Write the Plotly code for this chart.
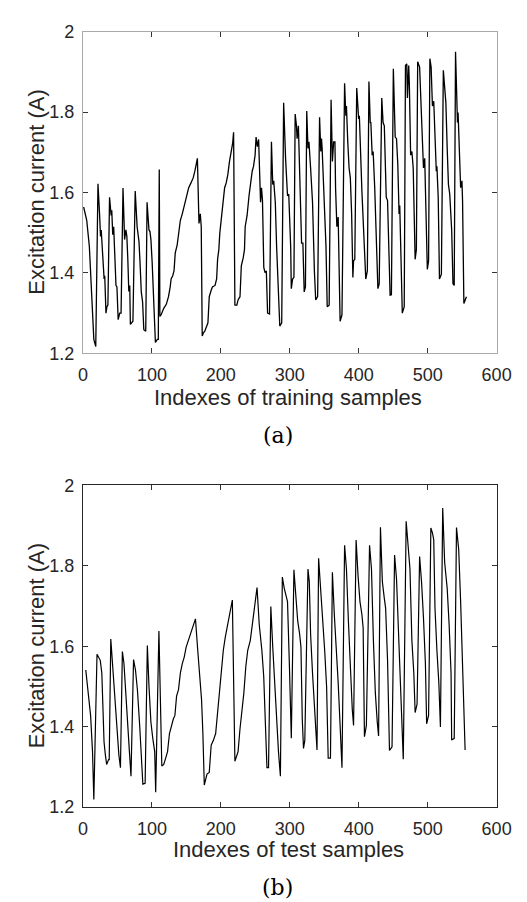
import plotly.graph_objects as go

# ---------------- data ----------------
train_idx = [1, 5.5, 9.3, 13, 15.8, 18.6, 21.8, 24.1, 25.5, 26.5, 27.9, 28.8, 30.7, 31.6, 33.4, 34.8, 36.2,
             38.6, 40.9, 41.8, 43.2, 44.6, 46, 47.9, 49.3, 51.1, 53.4, 55.3,
             58.1, 60.4, 62.3, 63.7, 65.1, 66.5, 67.9, 68.8, 72.5,
             75.8, 78.6, 80, 81.3, 82.7, 84.6, 86.5, 88.3, 91.1,
             93, 94.8, 95.8, 97.2, 98.6, 100.4, 102.3, 103.2, 105.1, 107.9, 109.3,
             110.7, 111.6, 113.4, 117.2, 120.9, 124.1, 126.5, 127.9, 130.2, 132.1, 133.9, 136.7, 138.6,
             141.3, 144.1, 147.4, 150.6, 153.4, 156.7, 160, 162.3, 164.6, 166,
             168.3, 169.3, 170.2, 171.6, 173, 174.8, 176.7, 181.3, 183.2, 186, 187.8, 191.6, 193.9,
             195.3, 197.1, 198.5, 200.9, 203.2, 205.5, 207.8, 210.2, 212.5, 214.8, 217.1, 218.5,
             220.4, 223.2, 225.0, 227.8, 229.7, 232.5, 234.3, 235.3, 238.1, 240.9, 242.7, 245.5, 247.4,
             249.7, 251.1, 253, 254.8, 257.6, 259, 260.4, 262.3, 264.1, 266, 267.8, 270.6,
             273.4, 275.3, 276.7, 278.1, 279, 280.9, 282.7, 283.6, 285.5, 288.3,
             291.1, 293.9, 294.8, 296.7, 298.5, 301.3, 302.2, 304.1, 306,
             307.8, 309.7, 310.6, 312.5, 314.3, 316.2, 317.1, 319, 320.9, 322.7,
             324.6, 326.4, 327.8, 330.2, 333, 335.7, 337.6, 340.4,
             343.2, 345, 346, 346.9, 348.8, 350.6, 352.5, 354.3, 357.1,
             359.9, 361.8, 363.6, 365.5, 366.4, 368.3, 370.2, 373, 375.7,
             379.5, 381.3, 382.2, 384.1, 386, 387.8, 389.7, 391.5, 392.5, 394.3,
             397.1, 399.9, 400.9, 404.6, 407.4, 410.2, 412.5,
             414.8, 416.7, 417.6, 419.5, 420.9, 423.2, 426, 427.8, 429.7,
             433.4, 435.3, 437.1, 439.9, 441.8, 443.6, 445.5, 447.4,
             450.2, 452.9, 454.8, 456.7, 458.5, 459.5, 461.3, 463.2, 466,
             467.8, 469.7, 470.6, 472.5, 473.4, 475.3, 477.1, 479, 481.8, 483.6,
             485.5, 488.3, 490.2, 492, 493.9, 495.7, 497.6, 499.5, 501.3,
             503.2, 505, 506.9, 508.8, 510.6, 512.5, 513.4, 515.3, 517.1, 519.9,
             522.7, 525.5, 526.4, 528.3, 530.1, 532, 534.8, 536.7, 538.5,
             540.4, 543.2, 544.1, 546, 547.8, 549.7, 550.6, 552.5, 554.3, 556.2]
train_val = [1.564, 1.531, 1.466, 1.345, 1.235, 1.217, 1.622, 1.547, 1.491, 1.507, 1.454, 1.450, 1.385, 1.393, 1.300, 1.316, 1.320,
             1.588, 1.543, 1.556, 1.495, 1.515, 1.426, 1.369, 1.365, 1.284, 1.300, 1.300,
             1.611, 1.483, 1.507, 1.491, 1.434, 1.354, 1.369, 1.272, 1.280,
             1.604, 1.515, 1.499, 1.478, 1.430, 1.353, 1.328, 1.259, 1.255,
             1.576, 1.531, 1.507, 1.503, 1.483, 1.426, 1.328, 1.328, 1.227, 1.235, 1.235,
             1.657, 1.292, 1.296, 1.312, 1.322, 1.341, 1.365, 1.385, 1.393, 1.405, 1.450, 1.470, 1.495,
             1.531, 1.547, 1.572, 1.596, 1.612, 1.624, 1.637, 1.653, 1.673, 1.685,
             1.523, 1.547, 1.547, 1.515, 1.243, 1.251, 1.255, 1.276, 1.341, 1.357, 1.365, 1.369, 1.385,
             1.434, 1.458, 1.499, 1.539, 1.564, 1.612, 1.624, 1.645, 1.677, 1.702, 1.722, 1.750,
             1.320, 1.320, 1.333, 1.341, 1.418, 1.438, 1.458, 1.515, 1.543, 1.592, 1.620, 1.653, 1.665,
             1.693, 1.738, 1.714, 1.732, 1.576, 1.612, 1.580, 1.414, 1.401, 1.405, 1.300, 1.298,
             1.726, 1.620, 1.629, 1.596, 1.576, 1.466, 1.377, 1.385, 1.268, 1.276,
             1.823, 1.685, 1.661, 1.592, 1.596, 1.466, 1.361, 1.385, 1.389,
             1.795, 1.766, 1.734, 1.766, 1.653, 1.572, 1.474, 1.474, 1.353, 1.365,
             1.803, 1.710, 1.726, 1.661, 1.576, 1.405, 1.333, 1.341,
             1.787, 1.702, 1.734, 1.710, 1.612, 1.547, 1.466, 1.316, 1.320,
             1.831, 1.677, 1.726, 1.726, 1.612, 1.515, 1.539, 1.280, 1.296,
             1.872, 1.791, 1.815, 1.726, 1.661, 1.637, 1.547, 1.389, 1.430, 1.434,
             1.860, 1.783, 1.791, 1.604, 1.507, 1.385, 1.405,
             1.876, 1.774, 1.774, 1.693, 1.702, 1.612, 1.466, 1.361, 1.373,
             1.835, 1.774, 1.766, 1.588, 1.580, 1.466, 1.345, 1.346,
             1.908, 1.738, 1.734, 1.669, 1.547, 1.568, 1.385, 1.300, 1.316,
             1.916, 1.920, 1.835, 1.916, 1.872, 1.693, 1.702, 1.661, 1.434, 1.458,
             1.925, 1.912, 1.839, 1.774, 1.661, 1.685, 1.547, 1.409, 1.430,
             1.933, 1.912, 1.815, 1.827, 1.750, 1.653, 1.665, 1.588, 1.385, 1.397,
             1.904, 1.848, 1.823, 1.710, 1.620, 1.596, 1.507, 1.373, 1.369,
             1.950, 1.774, 1.799, 1.718, 1.612, 1.629, 1.580, 1.324, 1.333, 1.341]

test_idx = [4.1, 7.9, 11.1, 13.9, 15.8, 20.4, 23.2, 25.1, 27.4, 28.8, 30.6, 32.5, 34.4, 37.2, 38.1,
            40.4, 43.7, 46.5, 49.7, 52.1, 54.4,
            57.2, 59.5, 62.3, 65.1, 67.4, 69.7,
            73.4, 76.2, 79, 82.3, 84.6, 86.9, 90.2,
            93.4, 95.8, 98.6, 101.3, 104.1, 105.5,
            110.2, 114.4, 117.2, 120, 122.7, 125.5, 128.3, 131.1, 133.4, 135.8, 138.6, 141.3, 144.1,
            146.9, 149.7, 152.5, 155.3, 158.1, 160.9, 163.2,
            166.5, 169.3, 172, 173.9, 176, 179.9, 183.2, 186, 189.2, 192.5, 195.3, 198.1, 200.9,
            203.6, 206.4, 209.2, 212, 213.9, 216.7,
            220.4, 222.3, 225, 227.8, 230.6, 233.4, 236.2, 239, 242.7, 245.5, 249.2, 252.5,
            255.7, 259.5, 262.2, 264.1, 266.9, 269.2,
            272.5, 275.3, 278.1, 280.9, 283.6, 286.4,
            289.2, 292, 293.9, 296.7, 299.5, 302.2,
            306, 308.8, 311.5, 314.3, 316.2, 318.1, 319.9, 321.8,
            326.4, 328.3, 330.2, 333, 335.7, 339.5,
            341.8, 345, 347.8, 350.6, 353.4, 355.7, 359,
            361.8, 364.6, 367.4, 370.2, 373, 375.7,
            379.5, 382.2, 385, 387.8, 390.6, 392.5,
            396.2, 399, 401.8, 404.6, 406.4, 408.3, 411.1,
            415.7, 418.5, 421.3, 424.1, 426.9, 428.8,
            431.5, 434.3, 437.1, 439, 441.8, 444.6, 448.3,
            452, 454.8, 457.6, 460.4, 462.2, 464.6,
            468.8, 471.5, 474.3, 477.1, 479.9, 481.8, 484.6,
            488.3, 491.1, 493.9, 496.7, 498.5, 501.3,
            504.6, 506.9, 508.8, 510.6, 513.4, 516.2, 518.5,
            521.8, 524.6, 528.3, 531.1, 533.9, 534.8, 538.5,
            541.8, 545, 547.8, 550.6, 554.3]
test_val = [1.541, 1.476, 1.428, 1.338, 1.219, 1.580, 1.573, 1.565, 1.533, 1.460, 1.362, 1.330, 1.306, 1.318, 1.318,
            1.618, 1.533, 1.468, 1.387, 1.330, 1.298,
            1.587, 1.557, 1.468, 1.403, 1.338, 1.277,
            1.567, 1.541, 1.492, 1.403, 1.330, 1.257, 1.259,
            1.602, 1.500, 1.411, 1.371, 1.338, 1.237,
            1.638, 1.302, 1.306, 1.322, 1.338, 1.383, 1.403, 1.419, 1.428, 1.476, 1.492, 1.533, 1.557,
            1.573, 1.598, 1.612, 1.624, 1.638, 1.654, 1.668,
            1.590, 1.533, 1.468, 1.387, 1.255, 1.282, 1.286, 1.354, 1.366, 1.383, 1.435, 1.492, 1.549,
            1.590, 1.622, 1.646, 1.675, 1.695, 1.715,
            1.314, 1.322, 1.338, 1.395, 1.435, 1.484, 1.549, 1.590, 1.614, 1.654, 1.695, 1.746,
            1.654, 1.590, 1.525, 1.428, 1.298, 1.298,
            1.699, 1.598, 1.500, 1.411, 1.338, 1.277,
            1.772, 1.744, 1.728, 1.711, 1.549, 1.371,
            1.790, 1.728, 1.663, 1.630, 1.598, 1.419, 1.346, 1.366,
            1.792, 1.760, 1.630, 1.533, 1.452, 1.342,
            1.819, 1.744, 1.663, 1.590, 1.500, 1.322, 1.322,
            1.784, 1.679, 1.598, 1.509, 1.403, 1.298,
            1.851, 1.792, 1.663, 1.533, 1.444, 1.403,
            1.864, 1.776, 1.711, 1.679, 1.646, 1.375, 1.403,
            1.851, 1.792, 1.614, 1.484, 1.411, 1.377,
            1.896, 1.760, 1.719, 1.695, 1.565, 1.341, 1.350,
            1.827, 1.768, 1.630, 1.500, 1.419, 1.319,
            1.911, 1.849, 1.792, 1.614, 1.533, 1.435, 1.456,
            1.823, 1.760, 1.671, 1.557, 1.407, 1.428,
            1.894, 1.882, 1.865, 1.695, 1.590, 1.509, 1.399,
            1.944, 1.809, 1.744, 1.654, 1.533, 1.367, 1.371,
            1.895, 1.841, 1.711, 1.549, 1.342]

x_ticks = [0, 100, 200, 300, 400, 500, 600]
y_ticks = [1.2, 1.4, 1.6, 1.8, 2.0]
y_tick_text = ["1.2", "1.4", "1.6", "1.8", "2"]
y_title = "Excitation current (A)"
x_titles = ["Indexes of training samples", "Indexes of test samples"]
panel_labels = ["(a)", "(b)"]

# ---------------- figure ----------------
W, H = 527, 902
TXT = "#262626"
fig = go.Figure()
fig.add_trace(go.Scatter(x=train_idx, y=train_val, mode="lines",
                         line=dict(color="black", width=1.3), xaxis="x", yaxis="y", showlegend=False))
fig.add_trace(go.Scatter(x=test_idx, y=test_val, mode="lines",
                         line=dict(color="black", width=1.2), xaxis="x2", yaxis="y2", showlegend=False))

xdom = [72.7 / W, 502.7 / W]
top_dom = [1 - 343 / H, 1 - 14 / H]
bot_dom = [1 - 807 / H, 1 - 478 / H]


def xaxis(anchor, linecolor):
    return dict(domain=xdom, anchor=anchor, range=[0, 600], tickvals=x_ticks,
                ticks="inside", ticklen=5, tickcolor="#333333", tickwidth=1,
                showline=True, linecolor=linecolor, linewidth=1, mirror="ticks",
                showgrid=False, zeroline=False, ticklabelstandoff=5,
                tickfont=dict(family="Liberation Sans, Arial", size=18, color=TXT))


def yaxis(domain, anchor, linecolor):
    return dict(domain=domain, anchor=anchor, range=[1.2, 2.0], tickvals=y_ticks, ticktext=y_tick_text,
                ticks="inside", ticklen=5, tickcolor="#333333", tickwidth=1,
                showline=True, linecolor=linecolor, linewidth=1, mirror="ticks",
                showgrid=False, zeroline=False, ticklabelstandoff=4,
                tickfont=dict(family="Liberation Sans, Arial", size=18, color=TXT))


fig.update_layout(
    width=W, height=H, autosize=False,
    margin=dict(l=0, r=0, t=0, b=0),
    paper_bgcolor="white", plot_bgcolor="white",
    xaxis=xaxis("y", "#a8a8a8"),
    yaxis=yaxis(top_dom, "x", "#a8a8a8"),
    xaxis2=xaxis("y2", "#262626"),
    yaxis2=yaxis(bot_dom, "x2", "#262626"),
)

anns = []
for yc in [178.5, 642.5]:
    anns.append(dict(text=y_title, x=24 / W, y=1 - yc / H, xref="paper", yref="paper",
                     textangle=-90, showarrow=False, xanchor="center", yanchor="middle",
                     font=dict(family="Liberation Sans, Arial", size=22, color=TXT)))
for t, yc in zip(x_titles, [388, 850]):
    anns.append(dict(text=t, x=286 / W, y=1 - yc / H, xref="paper", yref="paper",
                     showarrow=False, xanchor="center", yanchor="middle",
                     font=dict(family="Liberation Sans, Arial", size=22, color=TXT)))
for t, yc in zip(panel_labels, [427, 889]):
    anns.append(dict(text=t, x=275 / W, y=1 - yc / H, xref="paper", yref="paper",
                     showarrow=False, xanchor="center", yanchor="middle",
                     font=dict(family="DejaVu Serif", size=22, color="black")))
fig.update_layout(annotations=anns)

fig.write_html("out.html")
